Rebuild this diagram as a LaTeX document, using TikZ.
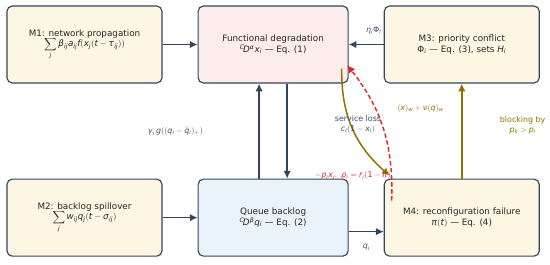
\documentclass[tikz,border=0pt]{standalone}
\usepackage{amsmath}
\usepackage{mathspec}
\setmainfont{DejaVu Sans}
\setmathsfont(Digits,Latin,Greek){DejaVu Sans}
\usetikzlibrary{arrows.meta, calc, positioning}
\definecolor{edgeblue}{HTML}{34455B}
\definecolor{creamfill}{HTML}{FDF6E2}
\definecolor{pinkfill}{HTML}{FDECEC}
\definecolor{bluefill}{HTML}{EAF2FB}
\definecolor{oliveline}{HTML}{8C7200}
\definecolor{lossred}{HTML}{D62728}
\definecolor{labgray}{HTML}{3E4E64}

\begin{document}
\begin{tikzpicture}[
    >={Latex[width=3mm,length=3.1mm]},
    every node/.style={font=\fontsize{10}{12}\selectfont},
    mbox/.style={draw=edgeblue, line width=1.3pt, rounded corners=6pt, fill=creamfill,
                 align=center, text=black!85, minimum width=6.2cm, minimum height=3.08cm},
    lab/.style ={font=\fontsize{9}{11}\selectfont, text=labgray, align=center},
    flow/.style={->, line width=1.7pt, edgeblue},
    oflow/.style={->, line width=1.7pt, oliveline},
    rflow/.style={->, line width=1.6pt, lossred, dashed, dash pattern=on 5pt off 3pt},
]
\useasboundingbox (0,0) rectangle (22,-10.56);
% --- top row: propagation, degradation, priority ---
\node[mbox] (m1) at (3.38,-1.78)
     {M1: network propagation\\[-2pt]$\displaystyle\sum_{j}\beta_{ij}a_{ij}f(x_j(t-\tau_{ij}))$};
\node[mbox, fill=pinkfill, minimum width=6cm, right=1.4cm of m1] (fd)
     {Functional degradation\\${}^{C}\!D^{\alpha}x_i$ --- Eq. (1)};
\node[mbox, right=1.4cm of fd] (m3)
     {M3: priority conflict\\$\Phi_i$ --- Eq. (3), sets $H_i$};
% --- bottom row: spillover, backlog, reconfiguration ---
\node[mbox, below=3.8cm of m1] (m2)
     {M2: backlog spillover\\[-2pt]$\displaystyle\sum_{j}w_{ij}q_j(t-\sigma_{ij})$};
\node[mbox, fill=bluefill, minimum width=6cm, below=3.8cm of fd] (qb)
     {Queue backlog\\${}^{C}\!D^{\beta}q_i$ --- Eq. (2)};
\node[mbox, below=3.8cm of m3] (m4)
     {M4: reconfiguration failure\\$\pi(t)$ --- Eq. (4)};

% free ends of the two curved links
\coordinate (lossout) at ($(fd.south east)+(-0.28,0.6)$);
\coordinate (lossin)  at ($(m4.north west)+(0.24,0.12)$);
\coordinate (restout) at ($(m4.north west)+(0.32,-0.88)$);
\coordinate (restin)  at ($(fd.south east)+(-0.06,0.74)$);

\draw[flow] (m1) -- (fd);
\draw[flow] (m3) -- node[lab, above=0.24cm, xshift=0.3cm]{$\eta_i\Phi_i$} (fd);
\draw[flow] (m2) -- (qb);
\draw[flow] ([xshift=-5.6mm]qb.north) -- node[lab, left=2.1cm]{$\gamma_i\,g((q_i-\hat{q}_i)_+)$} ([xshift=-5.6mm]fd.south);
\draw[flow] ([xshift=5.6mm]fd.south) -- ([xshift=5.6mm]qb.north);
\draw[flow] ([yshift=-5.6mm]qb.east) -- node[lab, below=0.36cm]{$q_i$} ([yshift=-5.6mm]m4.west);
\draw[oflow] (m4.north) -- node[lab, text=oliveline, pos=0.74, left=0.58cm]{$(x)_w+\nu(q)_w$}
     node[lab, text=oliveline, pos=0.56, right=1.38cm]{blocking by\\$p_k>p_i$} (m3.south);
\draw[oflow] (lossout) to[bend right=25]
     node[lab, xshift=0.22cm, yshift=0.13cm]{service loss\\$c_i(1-x_i)$} (lossin);
\draw[rflow] (restout) to[bend right=20]
     node[lab, text=lossred, pos=0.12, xshift=-1.56cm, yshift=0.22cm]{$-\rho_ix_i,\ \rho_i=r_i(1-\pi)$} (restin);
\end{tikzpicture}
\end{document}
